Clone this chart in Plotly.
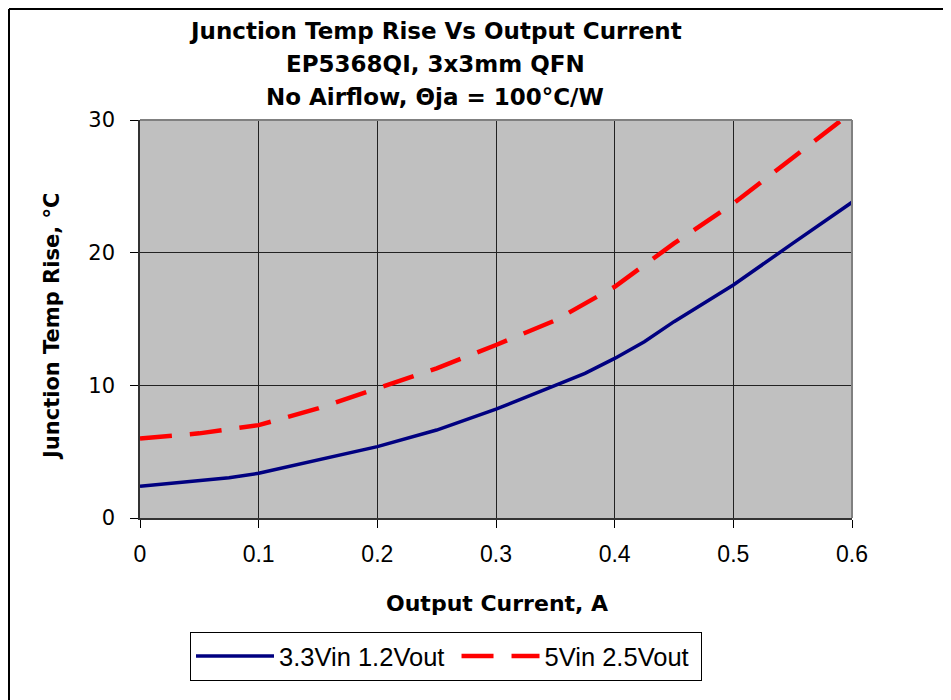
import plotly.graph_objects as go

current = [0, 0.05, 0.075, 0.1, 0.15, 0.2, 0.25, 0.3, 0.35, 0.375, 0.4, 0.425, 0.45, 0.5, 0.55, 0.6]
rise_33 = [2.4, 2.85, 3.04, 3.37, 4.37, 5.38, 6.63, 8.2, 10.0, 10.9, 12.03, 13.29, 14.8, 17.56, 20.7, 23.8]
current_5 = [0, 0.05, 0.1, 0.15, 0.2, 0.25, 0.3, 0.35, 0.4, 0.45, 0.5, 0.55, 0.6]
rise_5 = [6.0, 6.38, 7.0, 8.26, 9.77, 11.28, 13.04, 14.9, 17.43, 20.7, 23.7, 27.2, 30.6]

series_names = ["3.3Vin 1.2Vout", "5Vin 2.5Vout"]
x_ticks = [0, 0.1, 0.2, 0.3, 0.4, 0.5, 0.6]
y_ticks = [0, 10, 20, 30]

W, H = 951, 700
OFF = 8  # page body margin
# plot area in screen coordinates
SL, SR, ST, SB = 140, 852, 120, 518


def px(x):
    return (x - SL) / (SR - SL)


def py(y):
    return (SB - y) / (SB - ST)


NBSP = "\u00a0"
fig = go.Figure()
fig.add_trace(go.Scatter(x=current, y=rise_33, mode="lines", name=series_names[0] + NBSP,
                         line=dict(color="#000080", width=3.5)))
fig.add_trace(go.Scatter(x=current_5, y=rise_5, mode="lines", name=series_names[1] + NBSP,
                         line=dict(color="#FF0000", width=4.5, dash="32px,18px")))

axis_common = dict(showgrid=True, gridcolor="#222222", gridwidth=1, ticks="outside",
                   ticklen=8, tickcolor="#000000", showline=True, linecolor="#333333",
                   linewidth=1.5, zeroline=False)

fig.update_xaxes(range=[0, 0.6], tickvals=x_ticks, ticktext=[str(v) for v in x_ticks],
                 tickfont=dict(family="Liberation Sans, Arial", size=23, color="#000"),
                 ticklabelstandoff=7, **axis_common)
fig.update_yaxes(range=[0, 30], tickvals=y_ticks,
                 tickfont=dict(family="DejaVu Sans", size=21, color="#000"),
                 ticklabelstandoff=11, **axis_common)

titles = ["Junction Temp Rise Vs Output Current", "EP5368QI, 3x3mm QFN", "No Airflow, Θja = 100°C/W"]
title_y = [31, 64, 97]
annotations = []
for t, yy in zip(titles, title_y):
    annotations.append(dict(text="<b>" + t + "</b>", x=px(435), y=py(yy), xref="paper", yref="paper",
                            showarrow=False, xanchor="center", yanchor="middle",
                            font=dict(family="DejaVu Sans", size=23, color="#000")))
annotations.append(dict(text="<b>Output Current, A</b>", x=px(497), y=py(603), xref="paper", yref="paper",
                        showarrow=False, xanchor="center", yanchor="middle",
                        font=dict(family="DejaVu Sans", size=22, color="#000")))
annotations.append(dict(text="<b>Junction Temp Rise, °C</b>", x=px(52), y=py(327), xref="paper", yref="paper",
                        showarrow=False, xanchor="center", yanchor="middle", textangle=-90,
                        font=dict(family="DejaVu Sans", size=21, color="#000")))

shapes = [
    # plot area outer border (top/right gray)
    dict(type="line", xref="paper", yref="paper", x0=0, x1=1, y0=1, y1=1, line=dict(color="#808080", width=2)),
    dict(type="line", xref="paper", yref="paper", x0=1, x1=1, y0=0, y1=1, line=dict(color="#808080", width=2)),
    # figure frame (left and top visible)
    dict(type="line", xref="paper", yref="paper", x0=px(9), x1=px(9), y0=py(710), y1=py(9),
         line=dict(color="#000000", width=2)),
    dict(type="line", xref="paper", yref="paper", x0=px(9), x1=px(960), y0=py(9), y1=py(9),
         line=dict(color="#000000", width=2)),
]

fig.update_layout(
    width=W, height=H,
    margin=dict(l=SL - OFF, r=W - (SR - OFF), t=ST - OFF, b=H - (SB - OFF)),
    paper_bgcolor="#FFFFFF", plot_bgcolor="#C0C0C0",
    showlegend=True,
    legend=dict(orientation="h", x=px(190), y=py(632), xanchor="left", yanchor="top",
                bordercolor="#000000", borderwidth=1, bgcolor="#FFFFFF",
                font=dict(family="Liberation Sans, Arial", size=25.5, color="#000"),
                itemwidth=78, tracegroupgap=0),
    annotations=annotations,
    shapes=shapes,
)

fig.write_html("out.html")
